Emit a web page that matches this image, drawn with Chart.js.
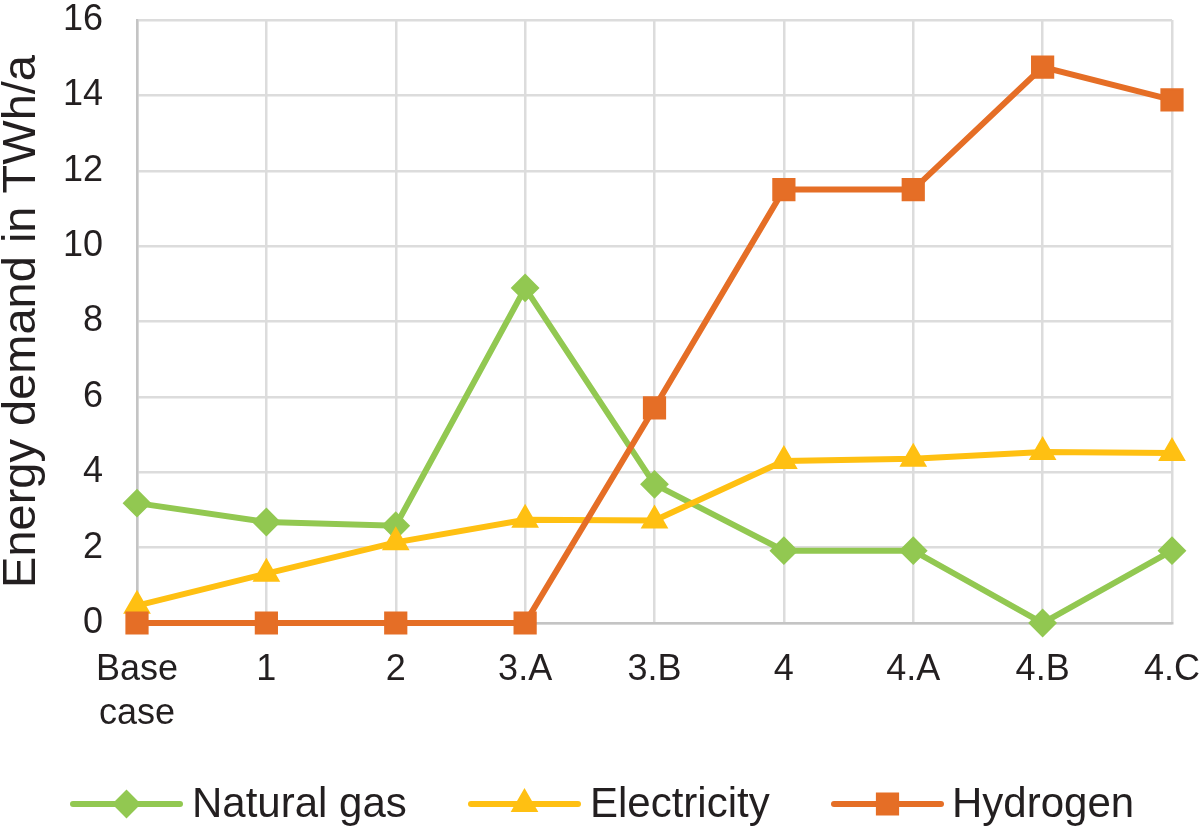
<!DOCTYPE html>
<html>
<head>
<meta charset="utf-8">
<script src="https://cdn.jsdelivr.net/npm/chart.js@4"></script>
<style>
  html, body { margin: 0; padding: 0; background: #ffffff; }
  #wrap { width: 1200px; height: 840px; position: relative; }
</style>
</head>
<body>
<div id="wrap"><canvas id="c"></canvas></div>
<script>
// ---- data ----
const categories = [['Base', 'case'], '1', '2', '3.A', '3.B', '4', '4.A', '4.B', '4.C'];
const naturalGas = [3.18, 2.68, 2.58, 8.89, 3.68, 1.92, 1.92, 0.0, 1.92];
const electricity = [0.46, 1.31, 2.14, 2.74, 2.72, 4.30, 4.36, 4.54, 4.51];
const hydrogen = [0, 0, 0, 0, 5.71, 11.5, 11.5, 14.75, 13.88];
const seriesNames = ['Natural gas', 'Electricity', 'Hydrogen'];
const yTicks = [0, 2, 4, 6, 8, 10, 12, 14, 16];
const yTitle = 'Energy demand in TWh/a';

const colGreen = '#92c851';
const colYellow = '#ffc012';
const colOrange = '#e56e26';
const textColor = '#231f20';
const FONT = "'Liberation Sans', Arial, Helvetica, sans-serif";

// custom legend: line + marker + label, drawn below the chart
const lineLegend = {
  id: 'lineLegend',
  afterDraw(chart) {
    const ctx = chart.ctx;
    const items = [
      { x1: 73, x2: 180, tx: 192 },
      { x1: 471, x2: 578, tx: 590 },
      { x1: 834, x2: 941, tx: 952 }
    ];
    const y = 804;
    ctx.save();
    chart.data.datasets.forEach((ds, k) => {
      const it = items[k];
      ctx.strokeStyle = ds.borderColor;
      ctx.lineWidth = 6;
      ctx.lineCap = 'round';
      ctx.beginPath();
      ctx.moveTo(it.x1, y);
      ctx.lineTo(it.x2, y);
      ctx.stroke();
      ctx.fillStyle = ds.borderColor;
      ctx.strokeStyle = ds.borderColor;
      ctx.lineWidth = ds.pointBorderWidth;
      Chart.helpers.drawPoint(ctx, {
        pointStyle: ds.pointStyle,
        radius: ds.pointRadius,
        borderWidth: ds.pointBorderWidth,
        rotation: 0
      }, (it.x1 + it.x2) / 2, y);
      ctx.fillStyle = textColor;
      ctx.font = '42px ' + FONT;
      ctx.textBaseline = 'middle';
      ctx.textAlign = 'left';
      ctx.fillText(ds.label, it.tx, y + 1);
    });
    ctx.restore();
  }
};

const mk = (label, data, color, style, radius, order) => ({
  label: label,
  data: data,
  borderColor: color,
  backgroundColor: color,
  borderWidth: 6,
  pointStyle: style,
  pointRadius: radius,
  pointHoverRadius: radius,
  pointBorderWidth: 2,
  pointBackgroundColor: color,
  pointBorderColor: color,
  tension: 0,
  clip: false,
  order: order
});

new Chart(document.getElementById('c'), {
  type: 'line',
  data: {
    labels: categories,
    datasets: [
      mk(seriesNames[0], naturalGas, colGreen, 'rectRot', 13, 3),
      mk(seriesNames[1], electricity, colYellow, 'triangle', 14, 2),
      mk(seriesNames[2], hydrogen, colOrange, 'rect', 15, 1)
    ]
  },
  options: {
    responsive: true,
    maintainAspectRatio: false,
    animation: false,
    devicePixelRatio: 1,
    layout: { padding: { left: 0, right: 0, top: 0, bottom: 100 } },
    plugins: {
      legend: { display: false },
      tooltip: { enabled: false },
      title: { display: false }
    },
    scales: {
      x: {
        type: 'category',
        offset: false,
        grid: { color: '#dcdcdc', lineWidth: 2.5, drawTicks: false },
        border: { color: '#c4c4c4', width: 2.5 },
        ticks: {
          color: textColor,
          font: { family: FONT, size: 36, lineHeight: 1.22 },
          padding: 25,
          maxRotation: 0,
          autoSkip: false
        },
        afterFit(scale) {
          scale.height = 117;
          scale.paddingLeft = 0;
          scale.paddingRight = 28;
        }
      },
      y: {
        min: 0,
        max: 16,
        afterBuildTicks(scale) { scale.ticks = yTicks.map(v => ({ value: v })); },
        grid: { color: '#dcdcdc', lineWidth: 2.5, drawTicks: false },
        border: { color: '#c4c4c4', width: 2.5 },
        ticks: {
          color: textColor,
          font: { family: FONT, size: 36 },
          padding: 34
        },
        title: {
          display: true,
          text: yTitle,
          color: textColor,
          font: { family: FONT, size: 47, lineHeight: 1.0 },
          padding: { top: -1, bottom: 0 }
        },
        afterFit(scale) {
          scale.width = 137;
          scale.paddingTop = 20;
          scale.paddingBottom = 0;
        }
      }
    }
  },
  plugins: [lineLegend]
});
</script>
</body>
</html>
